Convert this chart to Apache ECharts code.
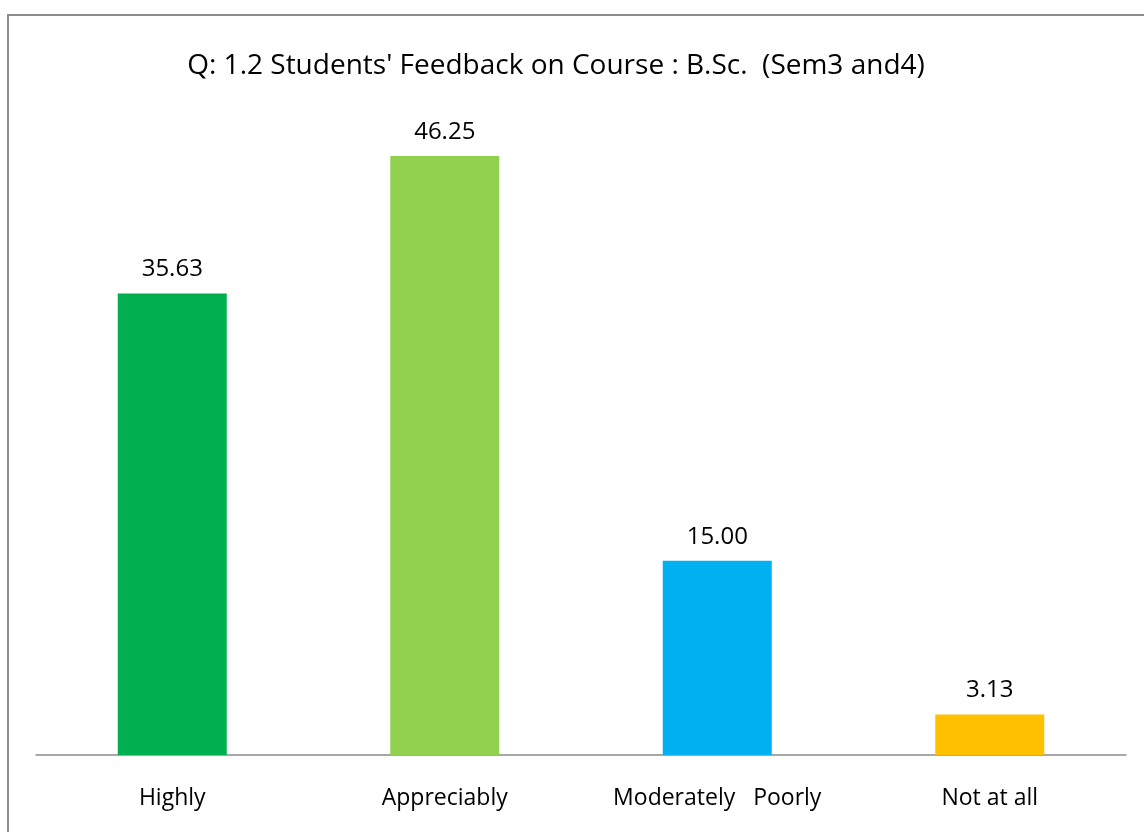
<!DOCTYPE html>
<html>
<head>
<meta charset="utf-8">
<script src="https://cdn.jsdelivr.net/npm/echarts@6/dist/echarts.min.js"></script>
<style>
  html, body { margin: 0; padding: 0; background: #fff; }
  #chart { width: 1144px; height: 832px; }
</style>
</head>
<body>
<div id="chart"></div>
<script>
// feedback categories and percentages
var categories = ['Highly', 'Appreciably', 'Moderately   Poorly', 'Not at all'];
var values = [35.63, 46.25, 15.00, 3.13];
var barColors = ['#00B050', '#92D050', '#00B0F0', '#FFC000'];

var chart = echarts.init(document.getElementById('chart'));

var option = {
  backgroundColor: '#fff',
  animation: false,
  title: {
    text: "Q: 1.2 Students' Feedback on Course : B.Sc.  (Sem3 and4)",
    left: 551,
    textAlign: 'center',
    top: 47,
    textStyle: {
      fontFamily: 'Open Sans',
      fontSize: 28,
      fontWeight: 'normal',
      color: '#000'
    }
  },
  graphic: [
    {
      type: 'rect',
      shape: { x: 8, y: 15, width: 1200, height: 900 },
      style: { fill: 'none', stroke: '#8c8c8c', lineWidth: 2 },
      silent: true
    }
  ],
  grid: { left: 36, right: 18, top: 107.5, bottom: 77 },
  xAxis: {
    type: 'category',
    data: categories,
    axisLine: { lineStyle: { color: '#8c8c8c', width: 1.5 } },
    axisTick: { show: false },
    axisLabel: {
      margin: 32,
      fontFamily: 'Open Sans',
      fontSize: 23,
      color: '#000'
    }
  },
  yAxis: {
    type: 'value',
    min: 0,
    max: 50,
    show: false
  },
  series: [
    {
      type: 'bar',
      barWidth: '40%',
      data: values.map(function (v, i) {
        return { value: v, itemStyle: { color: barColors[i] } };
      }),
      label: {
        show: true,
        position: 'top',
        distance: 12,
        formatter: function (p) { return p.value.toFixed(2); },
        fontFamily: 'Open Sans',
        fontSize: 24,
        color: '#000'
      }
    }
  ]
};

chart.setOption(option);
</script>
</body>
</html>
